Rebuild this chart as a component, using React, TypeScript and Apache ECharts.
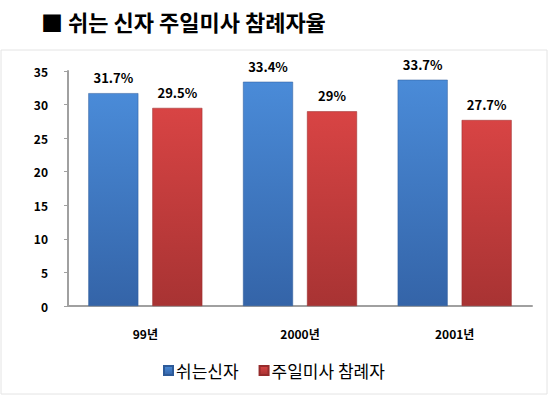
import React, { useEffect, useRef } from "react";
import * as echarts from "echarts";

const categories = ["99년", "2000년", "2001년"];
const restingBelievers = [31.7, 33.4, 33.7];
const massAttendees = [29.5, 29, 27.7];
const seriesNames = ["쉬는신자", "주일미사 참례자"];
const title = "■ 쉬는 신자 주일미사 참례자율";

const FONT = "'Noto Sans CJK KR', 'Noto Sans', sans-serif";

export default function App() {
  const ref = useRef<HTMLDivElement>(null);
  useEffect(() => {
    document.body.style.margin = "0";
    const chart = echarts.init(ref.current!, null, { renderer: "svg" });
    const blue = new echarts.graphic.LinearGradient(0, 0, 0, 1, [
      { offset: 0, color: "#4a8bd8" },
      { offset: 1, color: "#3464a8" },
    ]);
    const red = new echarts.graphic.LinearGradient(0, 0, 0, 1, [
      { offset: 0, color: "#d84444" },
      { offset: 1, color: "#a83333" },
    ]);
    const labelStyle = {
      show: true,
      position: "top",
      distance: 9,
      formatter: "{c}%",
      fontFamily: FONT,
      fontSize: 13,
      fontWeight: "bold",
      color: "#000",
    };
    chart.setOption({
      animation: false,
      backgroundColor: "#ffffff",
      title: {
        text: title,
        left: 36,
        top: 5,
        textStyle: { fontFamily: FONT, fontSize: 22, fontWeight: "bold", color: "#000" },
      },
      graphic: [
        {
          type: "rect",
          shape: { x: 1, y: 50, width: 546, height: 344 },
          style: { fill: "none", stroke: "#e4e4e4", lineWidth: 1 },
          silent: true,
        },
      ],
      legend: {
        bottom: 12,
        left: 158,
        itemWidth: 9,
        itemHeight: 9,
        itemGap: 20,
        icon: "rect",
        textStyle: { fontFamily: FONT, fontSize: 17, color: "#000", padding: [0, 0, 0, -2] },
        data: seriesNames,
      },
      grid: { left: 68, right: 18, top: 71, bottom: 90 },
      xAxis: {
        type: "category",
        data: categories,
        axisLine: { lineStyle: { color: "#a0a0a0", width: 2 } },
        axisTick: { show: false },
        axisLabel: { fontFamily: FONT, fontSize: 12, fontWeight: "bold", color: "#000", margin: 21 },
      },
      yAxis: {
        type: "value",
        min: 0,
        max: 35,
        interval: 5,
        splitLine: { show: false },
        axisLine: { show: true, lineStyle: { color: "#a0a0a0", width: 2 } },
        axisTick: { show: true, length: 4, lineStyle: { color: "#a0a0a0" } },
        axisLabel: { fontFamily: FONT, fontSize: 12, fontWeight: "bold", color: "#000", margin: 20 },
      },
      series: [
        {
          name: seriesNames[0],
          type: "bar",
          data: restingBelievers,
          barWidth: 50,
          barGap: "28%",
          itemStyle: { color: blue, borderColor: "#2d5a98", borderWidth: 0.5 },
          label: labelStyle,
        },
        {
          name: seriesNames[1],
          type: "bar",
          data: massAttendees,
          barWidth: 50,
          itemStyle: { color: red, borderColor: "#962b2b", borderWidth: 0.5 },
          label: labelStyle,
        },
      ],
    });
    return () => chart.dispose();
  }, []);
  return <div ref={ref} style={{ width: 550, height: 396 }} />;
}
